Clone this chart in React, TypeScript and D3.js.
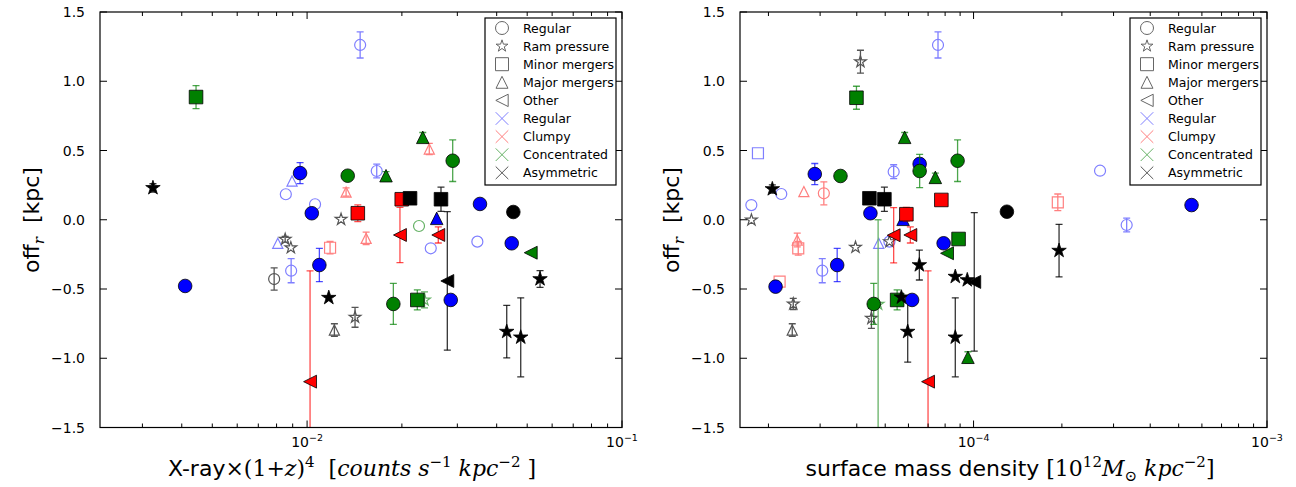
import React from 'react';
import * as d3 from 'd3';

// x, off_r, err down, err up, shape, colour, filled (1) / open (0)
type Pt = [number, number, number, number, string, string, number];

const offTicks = [-1.5, -1, -0.5, 0, 0.5, 1, 1.5];

const xrayPoints: Pt[] = [
  [0.00324, 0.23, 0.03, 0.03, '*', 'k', 1],
  [0.00444, 0.886, 0.083, 0.083, 's', 'g', 1],
  [0.0041, -0.478, 0, 0, 'o', 'b', 1],
  [0.01474, 1.262, 0.094, 0.094, 'o', 'b', 0],
  [0.0095, 0.337, 0.076, 0.076, 'o', 'b', 1],
  [0.00896, 0.28, 0, 0, '^', 'b', 0],
  [0.00856, 0.184, 0, 0, 'o', 'b', 0],
  [0.01346, 0.318, 0, 0, 'o', 'g', 1],
  [0.0133, 0.2, 0.03, 0.03, '^', 'r', 0],
  [0.01664, 0.352, 0.05, 0.05, 'o', 'b', 0],
  [0.01781, 0.318, 0.03, 0.03, '^', 'g', 1],
  [0.0106, 0.112, 0, 0, 'o', 'b', 0],
  [0.01035, 0.047, 0, 0, 'o', 'b', 1],
  [0.01282, 0.003, 0, 0, '*', 'k', 0],
  [0.01449, 0.047, 0.06, 0.06, 's', 'r', 1],
  [0.0154, -0.134, 0.045, 0.045, '^', 'r', 0],
  [0.01998, 0.148, 0, 0, 's', 'r', 1],
  [0.01972, -0.11, 0.2, 0.2, '<', 'r', 1],
  [0.02123, 0.155, 0, 0, 's', 'k', 1],
  [0.02662, 0.148, 0.087, 0.087, 's', 'k', 1],
  [0.0258, 0.01, 0, 0, '^', 'b', 1],
  [0.02267, -0.045, 0, 0, 'o', 'g', 0],
  [0.0261, -0.11, 0.058, 0.058, '<', 'r', 1],
  [0.0247, -0.206, 0, 0, 'o', 'b', 0],
  [0.02788, -0.442, 0.5, 0.5, '<', 'k', 1],
  [0.02859, -0.579, 0, 0, 'o', 'b', 1],
  [0.029, 0.426, 0.15, 0.15, 'o', 'g', 1],
  [0.0233, 0.595, 0.035, 0.035, '^', 'g', 1],
  [0.02444, 0.511, 0.04, 0.04, '^', 'r', 0],
  [0.0354, 0.114, 0, 0, 'o', 'b', 1],
  [0.04518, 0.056, 0, 0, 'o', 'k', 1],
  [0.03473, -0.158, 0, 0, 'o', 'b', 0],
  [0.04465, -0.17, 0, 0, 'o', 'b', 1],
  [0.05131, -0.238, 0, 0, '<', 'g', 1],
  [0.05492, -0.428, 0.06, 0.06, '*', 'k', 1],
  [0.04305, -0.808, 0.19, 0.19, '*', 'k', 1],
  [0.04769, -0.849, 0.285, 0.285, '*', 'k', 1],
  [0.01879, -0.608, 0.148, 0.148, 'o', 'g', 1],
  [0.02239, -0.579, 0.072, 0.072, 's', 'g', 1],
  [0.0236, -0.579, 0.058, 0.058, '*', 'g', 0],
  [0.0142, -0.704, 0.072, 0.072, '*', 'k', 0],
  [0.01221, -0.796, 0.045, 0.045, '^', 'k', 0],
  [0.01172, -0.563, 0, 0, '*', 'k', 1],
  [0.01022, -1.169, 0.8, 0.8, '<', 'r', 1],
  [0.01094, -0.327, 0.12, 0.12, 'o', 'b', 1],
  [0.01183, -0.202, 0.045, 0.045, 's', 'r', 0],
  [0.0089, -0.368, 0.087, 0.087, 'o', 'b', 0],
  [0.00786, -0.428, 0.08, 0.08, 'o', 'k', 0],
  [0.00807, -0.17, 0, 0, '^', 'b', 0],
  [0.00852, -0.141, 0.02, 0.02, '*', 'k', 0],
  [0.00888, -0.202, 0, 0, '*', 'k', 0],
];

const massPoints: Pt[] = [
  [1.842e-5, 0.48, 0, 0, 's', 'b', 0],
  [1.749e-5, 0.106, 0, 0, 'o', 'b', 0],
  [1.75e-5, -0.002, 0, 0, '*', 'k', 0],
  [2.062e-5, 0.222, 0.03, 0.03, '*', 'k', 1],
  [2.212e-5, 0.186, 0, 0, 'o', 'b', 0],
  [2.641e-5, 0.203, 0, 0, '^', 'r', 0],
  [3.089e-5, 0.191, 0.083, 0.083, 'o', 'r', 0],
  [2.877e-5, 0.33, 0.076, 0.076, 'o', 'b', 1],
  [3.52e-5, 0.316, 0, 0, 'o', 'g', 1],
  [4.117e-5, 1.141, 0.083, 0.083, '*', 'k', 0],
  [3.99e-5, 0.881, 0.083, 0.083, 's', 'g', 1],
  [7.566e-5, 1.262, 0.094, 0.094, 'o', 'b', 0],
  [5.824e-5, 0.595, 0.035, 0.035, '^', 'g', 1],
  [5.343e-5, 0.347, 0.05, 0.05, 'o', 'b', 0],
  [6.551e-5, 0.403, 0.04, 0.04, 'o', 'b', 1],
  [6.551e-5, 0.352, 0.12, 0.12, 'o', 'g', 1],
  [7.41e-5, 0.306, 0.03, 0.03, '^', 'g', 1],
  [8.822e-5, 0.426, 0.15, 0.15, 'o', 'g', 1],
  [7.767e-5, 0.143, 0, 0, 's', 'r', 1],
  [4.417e-5, 0.155, 0, 0, 's', 'k', 1],
  [4.968e-5, 0.148, 0.087, 0.087, 's', 'k', 1],
  [4.452e-5, 0.047, 0, 0, 'o', 'b', 1],
  [4.752e-5, -0.17, 0, 0, '^', 'b', 0],
  [5.168e-5, -0.158, 0, 0, 'o', 'b', 0],
  [5.168e-5, -0.158, 0, 0, '*', 'k', 0],
  [5.752e-5, 0.003, 0, 0, '^', 'b', 1],
  [5.903e-5, 0.04, 0.05, 0.05, 's', 'r', 1],
  [5.343e-5, -0.112, 0.2, 0.2, '<', 'r', 1],
  [6.09e-5, -0.11, 0.058, 0.058, '<', 'r', 1],
  [6.536e-5, -0.327, 0.108, 0.108, '*', 'k', 1],
  [7.907e-5, -0.17, 0, 0, 'o', 'b', 1],
  [8.891e-5, -0.139, 0, 0, 's', 'g', 1],
  [8.121e-5, -0.242, 0, 0, '<', 'g', 1],
  [8.665e-5, -0.411, 0, 0, '*', 'k', 1],
  [8.665e-5, -0.849, 0.285, 0.285, '*', 'k', 1],
  [1.0055e-4, -0.449, 0.5, 0.5, '<', 'k', 1],
  [9.52e-5, -0.435, 0, 0, '*', 'k', 1],
  [9.57e-5, -0.993, 0.04, 0.04, '^', 'g', 1],
  [2.507e-5, -0.146, 0.05, 0.05, '^', 'r', 0],
  [2.527e-5, -0.206, 0.05, 0.05, 's', 'r', 0],
  [3.051e-5, -0.368, 0.087, 0.087, 'o', 'b', 0],
  [3.43e-5, -0.327, 0.12, 0.12, 'o', 'b', 1],
  [3.96e-5, -0.199, 0, 0, '*', 'k', 0],
  [2.115e-5, -0.483, 0, 0, 'o', 'b', 1],
  [2.183e-5, -0.447, 0, 0, 's', 'r', 0],
  [2.43e-5, -0.608, 0.04, 0.04, '*', 'k', 0],
  [2.411e-5, -0.796, 0.045, 0.045, '^', 'k', 0],
  [4.569e-5, -0.608, 0.148, 0.148, 'o', 'g', 1],
  [4.487e-5, -0.712, 0.072, 0.072, '*', 'k', 0],
  [4.729e-5, -0.61, 1.0, 0.61, '*', 'g', 0],
  [5.49e-5, -0.579, 0.072, 0.072, 's', 'g', 1],
  [5.677e-5, -0.56, 0, 0, '*', 'k', 1],
  [5.965e-5, -0.808, 0.22, 0.22, '*', 'k', 1],
  [6.173e-5, -0.579, 0, 0, 'o', 'b', 1],
  [6.997e-5, -1.169, 0.8, 0.8, '<', 'r', 1],
  [1.299e-4, 0.058, 0, 0, 'o', 'k', 1],
  [1.937e-4, 0.126, 0.06, 0.06, 's', 'r', 0],
  [1.956e-4, -0.223, 0.19, 0.19, '*', 'k', 1],
  [2.698e-4, 0.354, 0, 0, 'o', 'b', 0],
  [3.325e-4, -0.038, 0.05, 0.05, 'o', 'b', 0],
  [5.532e-4, 0.106, 0, 0, 'o', 'b', 1],
];

const dynLabels = ['Regular', 'Ram pressure', 'Minor mergers', 'Major mergers', 'Other'];
const dynShapes = ['o', '*', 's', '^', '<'];
const morphLabels = ['Regular', 'Clumpy', 'Concentrated', 'Asymmetric'];
const morphColours = ['b', 'r', 'g', 'k'];

const fullCol: Record<string, string> = { b: '#0000ff', r: '#ff0000', g: '#008000', k: '#000000' };
const paleCol: Record<string, string> = { b: '#7f7fff', r: '#ff7f7f', g: '#66b266', k: '#555555' };

const SANS = 'DejaVu Sans';
const SERIF = 'DejaVu Serif';

function markerPath(shape: string, s: number) {
  if (shape === 'o') return `M${s},0A${s},${s} 0 1,1 ${-s},0A${s},${s} 0 1,1 ${s},0Z`;
  if (shape === 's') return `M${-s},${-s}H${s}V${s}H${-s}Z`;
  if (shape === '^') { const h = s * 0.92; return `M0,${-h}L${h},${h}L${-h},${h}Z`; }
  if (shape === '<') { const h = s * 0.95; return `M${-h},0L${h},${-h}L${h},${h}Z`; }
  if (shape === 'x') return `M${-s},${-s}L${s},${s}M${-s},${s}L${s},${-s}`;
  // star, a bit larger than the other shapes
  const R = s * 1.12;
  const pts: [number, number][] = [];
  for (let i = 0; i < 10; i++) {
    const r = i % 2 === 0 ? R : R * 0.382;
    const a = -Math.PI / 2 + (i * Math.PI) / 5;
    pts.push([r * Math.cos(a), r * Math.sin(a)]);
  }
  return d3.line()(pts) + 'Z';
}

const Y0 = 12, Y1 = 427.5;

function Panel({ id, x0, x1, domain, points, majors }: {
  id: string; x0: number; x1: number; domain: [number, number]; points: Pt[]; majors: number[];
}) {
  const x = d3.scaleLog().domain(domain).range([x0, x1]);
  const y = d3.scaleLinear().domain([-1.5, 1.5]).range([Y1, Y0]);
  const minors: number[] = [];
  for (let e = Math.floor(Math.log10(domain[0])); e < Math.ceil(Math.log10(domain[1])); e++) {
    for (let m = 2; m <= 9; m++) {
      const v = m * Math.pow(10, e);
      if (v > domain[0] && v < domain[1]) minors.push(v);
    }
  }
  const ordered = [...points.filter(p => !p[6]), ...points.filter(p => p[6])];
  const lx = x1 - 137, ly = Y0 + 6;
  return (
    <g>
      <defs>
        <clipPath id={id}><rect x={x0} y={Y0} width={x1 - x0} height={Y1 - Y0} /></clipPath>
      </defs>
      <g clipPath={`url(#${id})`}>
        {ordered.map((p, i) => {
          const [vx, vy, lo, hi, shape, c, filled] = p;
          const cx = x(vx), cy = y(vy);
          const ec = filled ? fullCol[c] : paleCol[c];
          const eo = filled ? (c === 'k' ? 0.8 : 0.7) : 1;
          const yt = y(vy + hi), yb = y(vy - lo);
          const s = filled ? 6.8 : 5.5;
          return (
            <g key={i}>
              {(lo > 0 || hi > 0) && (
                <g stroke={ec} strokeOpacity={eo} strokeWidth={1.3}>
                  <line x1={cx} x2={cx} y1={yt} y2={yb} />
                  <line x1={cx - 3.5} x2={cx + 3.5} y1={yt} y2={yt} />
                  <line x1={cx - 3.5} x2={cx + 3.5} y1={yb} y2={yb} />
                </g>
              )}
              <path transform={`translate(${cx},${cy})`} d={markerPath(shape, s)}
                fill={filled ? fullCol[c] : 'none'}
                stroke={filled ? '#000' : paleCol[c]}
                strokeWidth={filled ? 0.8 : 1.2} />
            </g>
          );
        })}
      </g>
      {/* ticks */}
      <g stroke="#000" strokeWidth={1}>
        {majors.map(v => (
          <g key={'M' + v}>
            <line x1={x(v)} x2={x(v)} y1={Y1} y2={Y1 - 7} />
            <line x1={x(v)} x2={x(v)} y1={Y0} y2={Y0 + 7} />
          </g>
        ))}
        {minors.map(v => (
          <g key={'m' + v}>
            <line x1={x(v)} x2={x(v)} y1={Y1} y2={Y1 - 4} />
            <line x1={x(v)} x2={x(v)} y1={Y0} y2={Y0 + 4} />
          </g>
        ))}
        {offTicks.map(v => (
          <g key={'y' + v}>
            <line x1={x0} x2={x0 + 7} y1={y(v)} y2={y(v)} />
            <line x1={x1} x2={x1 - 7} y1={y(v)} y2={y(v)} />
          </g>
        ))}
      </g>
      <rect x={x0} y={Y0} width={x1 - x0} height={Y1 - Y0} fill="none" stroke="#000" strokeWidth={1.2} />
      {offTicks.map(v => (
        <text key={'yl' + v} x={x0 - 15} y={y(v) + 5} textAnchor="end" fontFamily={SANS} fontSize={14}>
          {d3.format('.1f')(v).replace('-', '\u2212')}
        </text>
      ))}
      {majors.map(v => (
        <text key={'xl' + v} x={x(v)} y={447} textAnchor="middle" fontFamily={SANS} fontSize={14}>
          10<tspan dy={-6} fontSize={9.5}>{'\u2212' + Math.round(-Math.log10(v))}</tspan>
        </text>
      ))}
      {/* legend */}
      <rect x={lx} y={ly} width={131} height={167} fill="#fff" stroke="#000" strokeWidth={1.2} />
      {dynLabels.map((t, i) => (
        <g key={'d' + i} transform={`translate(0,${ly + 10 + i * 18.1})`}>
          <path transform={`translate(${lx + 17},0)`} d={markerPath(dynShapes[i], dynShapes[i] === '*' ? 5.6 : 6.5)}
            fill="none" stroke="#666" strokeWidth={1} />
          <text x={lx + 38} y={4.5} fontFamily={SANS} fontSize={12.5}>{t}</text>
        </g>
      ))}
      {morphLabels.map((t, i) => (
        <g key={'c' + i} transform={`translate(0,${ly + 10 + (i + 5) * 18.1})`}>
          <path transform={`translate(${lx + 17},0)`} d={markerPath('x', 6.3)}
            fill="none" stroke={paleCol[morphColours[i]]} strokeWidth={1} />
          <text x={lx + 38} y={4.5} fontFamily={SANS} fontSize={12.5}>{t}</text>
        </g>
      ))}
    </g>
  );
}

export default function App() {
  const W = 1296, H = 487;
  const sp = '\u00a0';
  return (
    <svg width={W} height={H} style={{ position: 'absolute', left: 0, top: 0, background: '#fff' }}>
      <Panel id="cl" x0={100} x1={622} domain={[0.0022, 0.1]} points={xrayPoints} majors={[0.01, 0.1]} />
      <Panel id="cr" x0={740} x1={1267} domain={[1.6e-5, 1e-3]} points={massPoints} majors={[1e-4, 1e-3]} />
      {[39, 679].map(tx => (
        <text key={tx} transform={`translate(${tx},220) rotate(-90)`} textAnchor="middle" fontFamily={SANS} fontSize={22}>
          off<tspan dy={5} fontSize={15} fontFamily={SERIF} fontStyle="italic">r</tspan>
          <tspan dy={-5}>{sp + sp + '[kpc]'}</tspan>
        </text>
      ))}
      <text x={352} y={476} textAnchor="middle" fontSize={22} fontFamily={SERIF}>
        <tspan fontFamily={SANS}>X-ray</tspan>
        <tspan>×(1+</tspan><tspan fontStyle="italic">z</tspan><tspan>)</tspan>
        <tspan dy={-9} fontSize={15}>4</tspan>
        <tspan dy={9}>{sp + sp + '['}</tspan>
        <tspan fontStyle="italic">{'counts' + sp + 's'}</tspan>
        <tspan dy={-9} fontSize={15}>−1</tspan>
        <tspan dy={9} fontStyle="italic">{sp + 'kpc'}</tspan>
        <tspan dy={-9} fontSize={15}>−2</tspan>
        <tspan dy={9}>{sp + ']'}</tspan>
      </text>
      <text x={1010} y={476} textAnchor="middle" fontSize={22} fontFamily={SERIF}>
        <tspan fontFamily={SANS}>{'surface mass density' + sp}</tspan>
        <tspan>[10</tspan>
        <tspan dy={-9} fontSize={15}>12</tspan>
        <tspan dy={9} fontStyle="italic">M</tspan>
        <tspan dy={5} fontSize={15}>⊙</tspan>
        <tspan dy={-5} fontStyle="italic">{sp + 'kpc'}</tspan>
        <tspan dy={-9} fontSize={15}>−2</tspan>
        <tspan dy={9}>]</tspan>
      </text>
    </svg>
  );
}
